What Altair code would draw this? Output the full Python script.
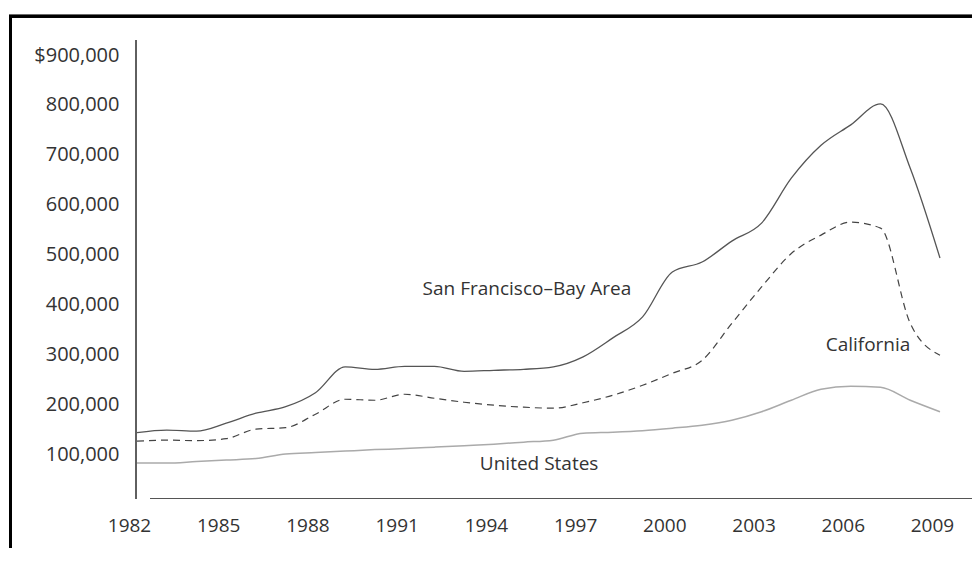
import altair as alt
import pandas as pd

years = list(range(1982, 2010))

sf_bay = [143000, 148000, 146000, 162000, 182000, 195000, 223000, 275000, 270000, 276000,
          276000, 266000, 268000, 270000, 275000, 295000, 333000, 375000, 465000, 485000,
          527000, 563000, 653000, 719000, 760000, 802000, 673000, 493000]
california = [126000, 128000, 127000, 131000, 150000, 153000, 180000, 210000, 208000, 220000,
              212000, 204000, 198000, 194000, 192000, 203000, 218000, 238000, 262000, 288000,
              362000, 435000, 502000, 539000, 565000, 553000, 362000, 298000]
united_states = [82000, 82000, 85000, 88000, 91000, 100000, 103000, 106000, 109000, 111000,
                 114000, 117000, 120000, 124000, 128000, 142000, 144000, 147000, 152000, 158000,
                 168000, 185000, 208000, 230000, 236000, 234000, 208000, 185000]

series_names = ["San Francisco–Bay Area", "California", "United States"]

label_text = ["San Francisco–Bay Area", "California", "United States"]
label_year = [1995.11, 2006.58, 1995.52]
label_value = [431000, 318600, 80200]

x_ticks = [1982, 1985, 1988, 1991, 1994, 1997, 2000, 2003, 2006, 2009]
y_ticks = [100000, 200000, 300000, 400000, 500000, 600000, 700000, 800000, 900000]

FONT = "Open Sans"

df = pd.DataFrame({
    "year": years * 3,
    "value": sf_bay + california + united_states,
    "series": [series_names[0]] * len(years) + [series_names[1]] * len(years) + [series_names[2]] * len(years),
})
labels_df = pd.DataFrame({"text": label_text, "year": label_year, "value": label_value})

x_scale = alt.Scale(domain=[1981.966, 2009.74], nice=False, zero=False)
y_scale = alt.Scale(domain=[0, 900000], nice=False)

x_enc = alt.X("year:Q", scale=x_scale, axis=alt.Axis(
    values=x_ticks, format="d", title=None, grid=False, domain=False, ticks=False, tickSize=0,
    labelPadding=21, labelBaseline="middle", labelOffset=-8, labelFont=FONT, labelFontSize=19,
    labelColor="#333333", labelFlush=False))
y_enc = alt.Y("value:Q", scale=y_scale, axis=alt.Axis(
    values=y_ticks, title=None, grid=False, domain=False, ticks=False, tickSize=0,
    labelPadding=17, labelFont=FONT, labelFontSize=20, labelColor="#333333",
    labelExpr="datum.value == 900000 ? '$900,000' : format(datum.value, ',')"))

base = alt.Chart(df)

sf_line = base.transform_filter(alt.datum.series == series_names[0]).mark_line(
    color="#555555", strokeWidth=1.3, interpolate="monotone"
).encode(x=x_enc, y=y_enc)

ca_line = base.transform_filter(alt.datum.series == series_names[1]).mark_line(
    color="#444444", strokeWidth=1.2, strokeDash=[7, 5], interpolate="monotone"
).encode(x="year:Q", y="value:Q")

us_line = base.transform_filter(alt.datum.series == series_names[2]).mark_line(
    color="#aaaaaa", strokeWidth=1.5, interpolate="monotone"
).encode(x="year:Q", y="value:Q")

texts = alt.Chart(labels_df).mark_text(
    font=FONT, fontSize=19, color="#333333", align="center", baseline="middle"
).encode(x="year:Q", y="value:Q", text="text:N")

# axis lines and frame (decorative)
y_axis_line = alt.Chart(labels_df).mark_rule(color="#555555", strokeWidth=1.2).encode(
    x=alt.value(0), y=alt.value(-15), y2=alt.value(444))
x_axis_line = alt.Chart(labels_df).mark_rule(color="#555555", strokeWidth=1.2).encode(
    x=alt.value(14), x2=alt.value(836), y=alt.value(443.5))
frame_top = alt.Chart(labels_df).mark_rule(color="#000000", strokeWidth=3).encode(
    x=alt.value(-127), x2=alt.value(840), y=alt.value(-38.7))
frame_left = alt.Chart(labels_df).mark_rule(color="#000000", strokeWidth=3).encode(
    x=alt.value(-125.5), y=alt.value(-40), y2=alt.value(500))

chart = alt.layer(
    sf_line, ca_line, us_line, texts, y_axis_line, x_axis_line, frame_top, frame_left
).properties(
    width=826, height=449,
    padding={"left": 128, "top": 47, "right": 10, "bottom": 44},
    autosize=alt.AutoSizeParams(type="none"),
    background="white",
).configure_view(stroke="transparent", strokeWidth=0)

chart.save("out.html", embed_options={"renderer": "svg", "actions": False})
